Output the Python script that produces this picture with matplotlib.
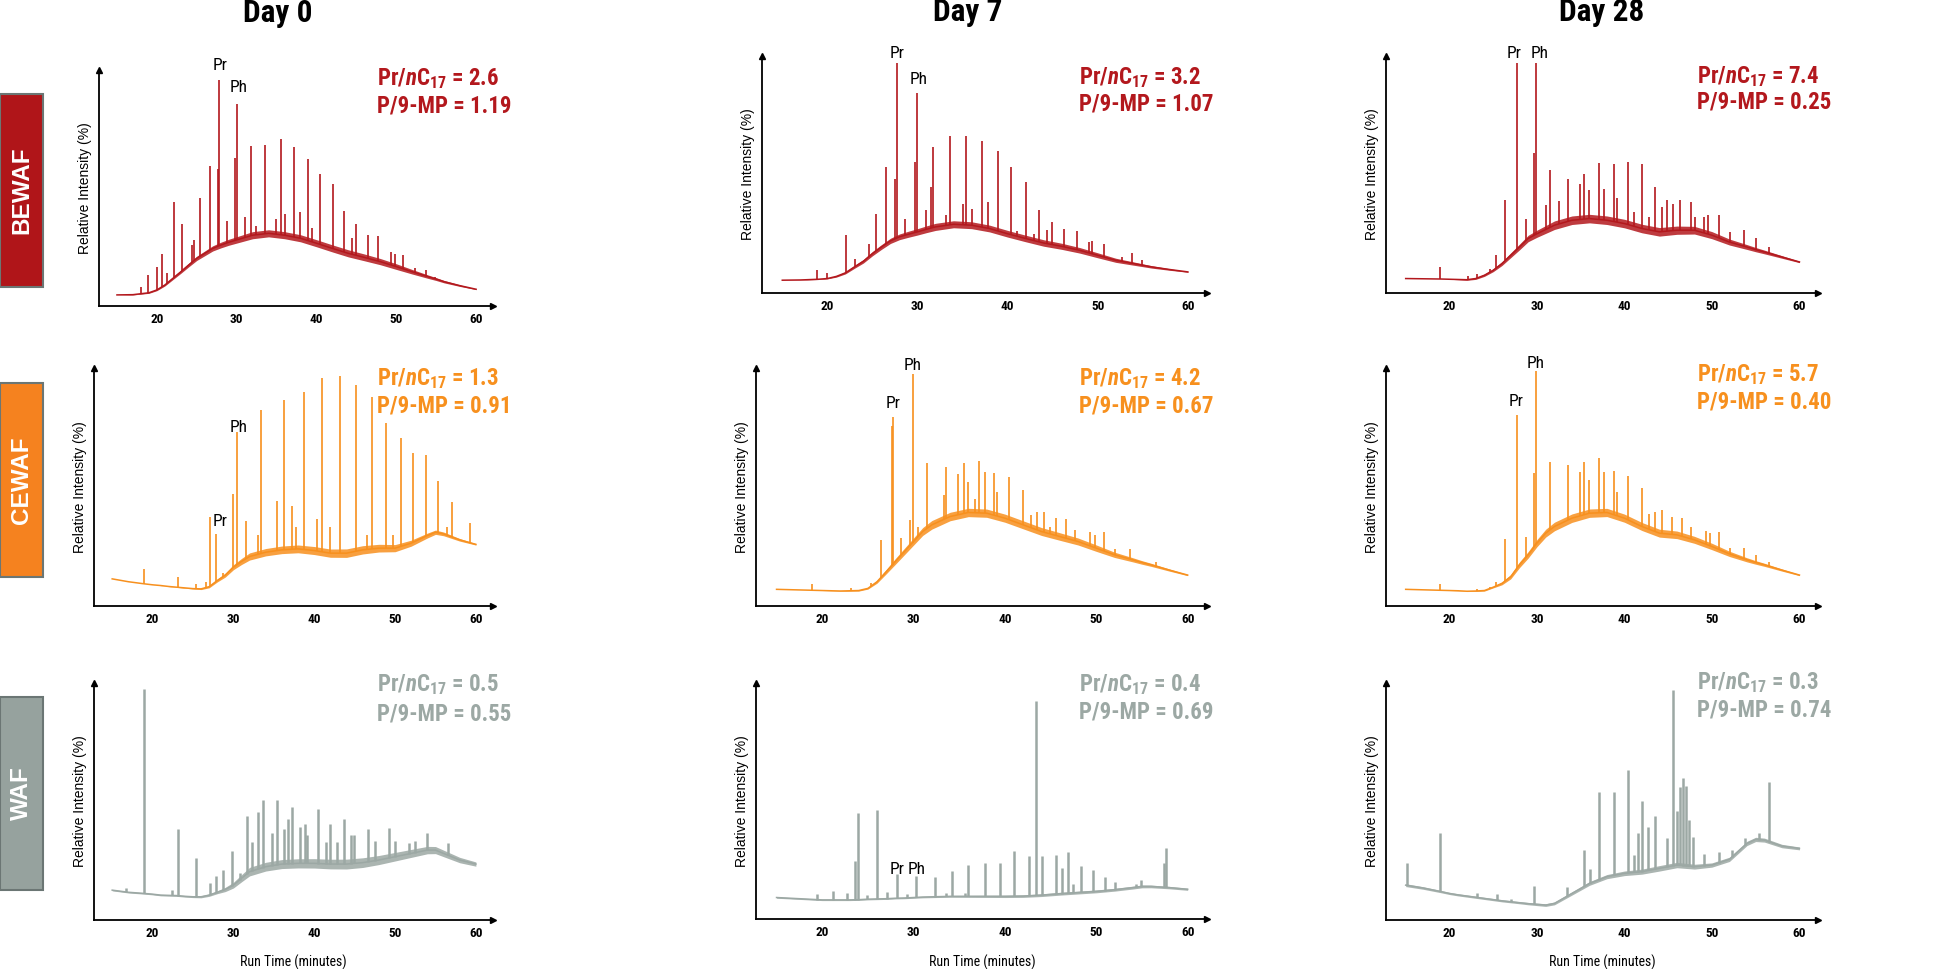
import numpy as np
import matplotlib
matplotlib.use("Agg")
import matplotlib.pyplot as plt
from matplotlib import font_manager
from matplotlib.patches import Rectangle

W, H = 1946, 969


def _weight(entry):
    w = entry.weight
    if isinstance(w, (int, float)) or str(w).isdigit():
        return int(w)
    return font_manager.weight_dict.get(str(w), 400)


def pick_family(candidates, fallback="Liberation Sans"):
    """First candidate family that ships a bold face."""
    for name in candidates:
        if any(f.name == name and _weight(f) >= 700 for f in font_manager.fontManager.ttflist):
            return name
    return fallback


NARROW = pick_family(["Liberation Sans Narrow", "Roboto Condensed", "Fira Sans Condensed",
                      "Barlow Semi Condensed", "Asap Condensed"])
plt.rcParams["font.family"] = ["Liberation Sans", "DejaVu Sans"]
plt.rcParams["mathtext.fontset"] = "custom"
plt.rcParams["mathtext.it"] = f"{NARROW}:italic:bold"
plt.rcParams["mathtext.default"] = "regular"

# ---------------------------------------------------------------- data
DAYS = ["Day 0", "Day 7", "Day 28"]
FRACTIONS = ["BEWAF", "CEWAF", "WAF"]
PR_NC17 = [["2.6", "3.2", "7.4"], ["1.3", "4.2", "5.7"], ["0.5", "0.4", "0.3"]]
P_9MP = [["1.19", "1.07", "0.25"], ["0.91", "0.67", "0.40"], ["0.55", "0.69", "0.74"]]
X_TICKS = [20, 30, 40, 50, 60]

# retention times (min) where the UCM hump was read
KNOTS = [15, 17, 19, 20, 21, 22, 23, 24, 25, 26, 27, 28, 29, 30, 31, 32,
         34, 36, 38, 40, 42, 44, 46, 48, 50, 52, 54, 55, 56, 58, 60]
SPREAD_T = [15, 20, 25, 28, 32, 45, 50, 55, 60]

# hump (relative intensity, % of axis height)
bewaf_d0_hump = [4.7, 4.8, 5.6, 6.8, 8.9, 11.7, 14.5, 17.4, 20.2, 22.3, 24.4, 25.8, 27, 28, 29, 30,
                 30.8, 30, 28.7, 26.6, 24.4, 22.3, 20.6, 18.8, 16.7, 14.5, 12.4, 11.4, 10.3, 8.6, 7.1]
bewaf_d7_hump = [5.4, 5.5, 5.8, 6.1, 7.0, 8.5, 11, 13.4, 16.6, 19.4, 22, 23.7, 24.8, 25.8, 26.9, 27.9,
                 29, 28.6, 27.2, 25, 23, 21.1, 19.7, 18, 15.9, 13.8, 12.4, 11.7, 11, 9.9, 8.9]
bewaf_d28_hump = [6.1, 6.0, 5.9, 5.8, 5.7, 5.6, 6.1, 7.5, 9.6, 12.4, 15.9, 19.4, 23, 25, 26.8, 28.6,
                  30.7, 31.4, 30.7, 29.3, 27.2, 25.8, 26.5, 26.5, 24.4, 21.5, 19.4, 18.3, 17.3, 15.2, 13.1]
cewaf_d0_hump = [11.4, 10.2, 9.3, 8.9, 8.6, 8.2, 7.9, 7.6, 7.3, 7.2, 8.1, 10.7, 13, 16.3, 18.7, 20.8,
                 22.6, 23.6, 24, 23.3, 22.2, 22.2, 23.6, 24.3, 24.3, 26.4, 29.6, 31, 30.3, 27.8, 25.9]
cewaf_d7_hump = [7.0, 6.8, 6.6, 6.5, 6.4, 6.3, 6.4, 6.5, 7.4, 10.2, 14.4, 18.7, 22.9, 27.1, 31.3, 34.1,
                 37.6, 39.3, 39, 36.9, 34.1, 31.3, 29.2, 27.1, 24.3, 21.5, 19.4, 18.3, 17.3, 15.1, 13.0]
cewaf_d28_hump = [7.0, 6.8, 6.6, 6.5, 6.4, 6.2, 6.3, 6.5, 7.9, 9.5, 12.3, 17.3, 21.5, 26.4, 30.6, 33.4,
                  36.9, 39, 39.3, 36.9, 33.4, 30.6, 29.9, 27.8, 25, 21.9, 19.4, 18.3, 17.3, 15.1, 13.0]
waf_d0_hump = [12.6, 11.7, 11.2, 10.9, 10.5, 10.4, 10.3, 10.0, 9.8, 9.8, 10.5, 11.7, 12.9, 14.7, 17.6, 20.4,
               22.5, 23.6, 23.9, 23.9, 23.6, 23.6, 24.2, 25.3, 26.7, 28.1, 29.5, 29.5, 28.1, 25.3, 23.6]
waf_d7_hump = [9.1, 8.7, 8.3, 8.1, 8.1, 8.1, 8.1, 8.2, 8.4, 8.5, 8.6, 8.8, 8.9, 9.1, 9.3, 9.4,
               9.6, 9.6, 9.6, 9.6, 9.7, 10.1, 10.7, 11.2, 11.7, 12.4, 13.3, 13.8, 13.8, 13.3, 12.6]
waf_d28_hump = [14.7, 13.5, 12.0, 11.2, 10.6, 10.1, 9.6, 9.1, 8.6, 8.1, 7.7, 7.3, 6.9, 6.6, 6.3, 7.0,
                11.2, 15.4, 18.3, 19.7, 20.4, 21.8, 23.2, 22.5, 23.2, 25.6, 32.3, 34, 33.7, 31.2, 30.2]

# width of the noisy band around the hump
bewaf_d0_spread = [0, 0.6, 1.8, 2.4, 3.0, 3.0, 2.4, 1.2, 0.3]
bewaf_d7_spread = [0, 0.3, 1.8, 2.4, 3.0, 2.7, 2.1, 1.2, 0.3]
bewaf_d28_spread = [0, 0, 1.2, 2.4, 3.6, 3.6, 3.0, 1.8, 0.6]
cewaf_d0_spread = [0, 0, 0.3, 1.2, 3.0, 3.6, 3.0, 1.8, 0.6]
cewaf_d7_spread = [0, 0, 0.6, 2.4, 3.6, 3.3, 2.7, 1.5, 0.5]
cewaf_d28_spread = [0, 0, 0.6, 2.4, 3.6, 3.3, 2.7, 1.5, 0.5]
waf_d0_spread = [0.6, 0.6, 0.7, 1.2, 3.6, 4.2, 3.6, 3.0, 1.8]
waf_d7_spread = [0.6, 0.6, 0.6, 0.6, 0.7, 1.2, 1.2, 1.2, 0.9]
waf_d28_spread = [1.2, 0.9, 0.9, 0.9, 1.2, 2.4, 1.8, 1.8, 1.2]

# resolved peaks: retention time (min) and apex height (%)
bewaf_d0_pk_t = [18.0, 18.9, 20.0, 20.6, 21.3, 22.2, 23.1, 24.4, 24.7, 25.4, 26.6, 27.6, 27.8, 28.8, 29.8,
                 30.0, 31.0, 31.8, 32.4, 33.6, 34.9, 35.5, 36.1, 37.2, 37.9, 38.9, 39.5, 40.5, 42.1, 43.5,
                 44.4, 45.0, 46.4, 47.7, 49.4, 49.9, 50.9, 52.3, 53.7, 54.8]
bewaf_d0_pk_h = [8.2, 13.0, 16.7, 21.9, 14.0, 44.2, 34.6, 26.0, 28.0, 45.9, 59.5, 58.0, 95.8, 36.0, 62.9,
                 85.6, 37.9, 67.9, 34.0, 68.2, 37.0, 70.6, 39.0, 67.5, 40.0, 62.1, 33.0, 55.9, 51.6, 40.4,
                 28.7, 34.6, 30.0, 29.7, 23.0, 22.0, 21.6, 16.0, 15.3, 12.5]
bewaf_d7_pk_t = [18.8, 20.0, 22.1, 23.1, 24.6, 25.4, 26.5, 27.55, 27.7, 28.6, 29.7, 29.9, 31.0, 31.5, 31.7,
                 33.2, 33.6, 35.0, 35.4, 36.0, 37.2, 37.8, 38.9, 40.4, 41.0, 42.0, 42.9, 43.5, 44.4, 44.9,
                 46.3, 47.7, 49.0, 49.4, 50.7, 52.7, 53.8, 54.9]
bewaf_d7_pk_h = [9.9, 8.5, 24.4, 14.5, 20.8, 33.2, 53.0, 48.3, 97.2, 31.4, 55.1, 84.5, 34.9, 44.8, 61.7,
                 33.0, 66.2, 37.7, 66.2, 35.6, 64.1, 38.5, 60.0, 53.2, 26.0, 46.9, 25.0, 35.2, 26.5, 30.0,
                 27.2, 26.2, 21.5, 22.0, 20.8, 15.2, 17.0, 14.0]
bewaf_d28_pk_t = [18.9, 22.1, 23.1, 24.6, 25.3, 26.4, 27.7, 28.7, 29.7, 29.9, 31.0, 31.5, 32.5, 33.6, 34.9,
                  35.4, 36.0, 37.1, 37.7, 38.8, 39.2, 40.4, 41.1, 42.0, 42.8, 43.5, 44.3, 44.9, 45.6, 46.3,
                  47.6, 48.1, 49.1, 49.5, 50.8, 52.1, 53.7, 55.0, 56.5]
bewaf_d28_pk_h = [11.0, 7.3, 7.9, 10.3, 15.9, 39.4, 97.2, 31.4, 58.9, 96.9, 37.0, 51.8, 39.0, 48.3, 46.2,
                  50.4, 43.4, 54.9, 43.8, 54.5, 40.0, 55.1, 34.0, 54.6, 32.0, 44.8, 36.3, 39.4, 37.5, 39.4,
                  38.5, 32.0, 32.0, 33.0, 32.8, 25.8, 26.5, 23.0, 19.4]
cewaf_d0_pk_t = [18.9, 23.2, 25.4, 26.6, 27.1, 27.8, 28.7, 29.9, 30.4, 31.6, 33.0, 33.4, 35.4, 36.2, 37.2,
                 37.8, 38.7, 40.4, 40.9, 42.0, 43.2, 45.2, 46.5, 47.2, 48.9, 49.8, 50.7, 52.2, 53.8, 55.3,
                 56.4, 57.1, 59.3]
cewaf_d0_pk_h = [15.6, 12.1, 9.3, 10.2, 37.3, 30.2, 14.0, 47.1, 72.9, 35.9, 30.0, 82.2, 44.3, 86.4, 42.1,
                 33.0, 89.8, 36.5, 95.8, 33.4, 96.8, 93.0, 30.0, 87.7, 76.9, 30.0, 70.5, 64.2, 63.3, 52.7,
                 33.4, 43.8, 34.8]
cewaf_d7_pk_t = [18.9, 23.2, 25.3, 26.4, 27.6, 27.7, 28.6, 29.6, 29.9, 30.5, 31.5, 33.3, 33.6, 34.9, 35.5,
                 36.0, 36.7, 37.2, 37.8, 38.8, 39.1, 40.5, 42.0, 42.8, 43.5, 44.3, 44.9, 45.6, 46.7, 47.7,
                 49.3, 49.9, 50.8, 52.1, 53.7, 56.5]
cewaf_d7_pk_h = [9.3, 7.5, 9.8, 27.8, 75.5, 79.4, 28.5, 36.2, 97.6, 33.0, 60.0, 46.7, 58.6, 55.5, 60.0,
                 52.3, 45.0, 61.1, 56.1, 55.8, 48.0, 54.3, 48.8, 38.3, 39.3, 39.7, 33.0, 36.9, 36.5, 32.0,
                 31.3, 30.0, 30.9, 24.0, 23.8, 18.5]
cewaf_d28_pk_t = [18.9, 23.1, 24.6, 25.3, 26.4, 27.7, 28.7, 29.7, 29.9, 31.5, 33.6, 34.9, 35.4, 36.0, 37.1,
                  37.7, 38.8, 39.2, 40.4, 42.0, 42.8, 43.5, 44.3, 45.4, 46.6, 47.6, 49.3, 49.8, 50.8, 52.1,
                  53.7, 55.0, 56.5]
cewaf_d28_pk_h = [9.3, 7.2, 8.0, 10.2, 28.0, 80.4, 29.2, 55.8, 98.6, 60.7, 59.3, 56.5, 60.7, 53.0, 62.1,
                  56.5, 56.9, 48.0, 54.8, 49.5, 38.6, 39.7, 40.4, 37.3, 36.9, 33.0, 31.6, 30.5, 31.3, 24.5,
                  24.3, 21.5, 18.5]
waf_d0_pk_t = [16.7, 18.9, 22.4, 23.2, 25.4, 27.1, 27.8, 28.7, 29.8, 30.8, 31.7, 32.3, 33.0, 33.6, 34.8,
               35.4, 36.2, 36.8, 37.2, 38.3, 38.8, 39.1, 40.5, 41.5, 42.0, 42.8, 43.7, 44.6, 44.9, 46.6,
               47.5, 49.2, 50.0, 51.7, 52.5, 54.0, 56.5]
waf_d0_pk_h = [13.3, 97.6, 12.5, 38.6, 26.0, 15.7, 18.7, 21.1, 29.2, 20.0, 44.0, 33.0, 45.4, 50.6, 36.8,
               50.8, 38.6, 42.8, 47.5, 39.3, 40.4, 36.0, 46.8, 33.0, 40.4, 33.0, 42.8, 36.0, 36.0, 38.6,
               33.5, 39.0, 33.5, 32.6, 33.3, 36.5, 32.3]
waf_d7_pk_t = [19.4, 21.2, 22.7, 23.6, 23.9, 24.9, 26.0, 27.1, 28.2, 29.3, 30.3, 32.3, 33.6, 34.2, 35.6,
               36.0, 37.8, 39.5, 41.0, 42.6, 43.4, 44.1, 45.6, 46.2, 46.95, 47.5, 48.3, 49.6, 50.9, 52.1,
               54.4, 54.9, 57.4, 57.6]
waf_d7_pk_h = [10.5, 11.7, 11.0, 24.6, 44.9, 10.0, 46.3, 11.5, 19.0, 10.5, 18.3, 18.0, 11.0, 20.4, 11.0,
               22.9, 23.6, 23.6, 28.8, 26.7, 92.3, 26.7, 27.0, 21.8, 28.4, 15.0, 22.5, 20.6, 18.0, 15.5,
               15.0, 16.5, 23.6, 30.2]
waf_d28_pk_t = [15.1, 18.9, 23.2, 25.4, 27.0, 29.7, 33.4, 35.4, 36.1, 37.1, 38.8, 40.4, 41.1, 41.6, 42.0,
                42.7, 43.5, 44.9, 45.6, 46.0, 46.3, 46.7, 47.0, 47.4, 47.8, 49.1, 50.8, 52.3, 53.8, 55.4,
                56.5]
waf_d28_pk_h = [23.9, 36.5, 11.5, 11.0, 9.0, 14.3, 14.0, 29.5, 21.5, 53.8, 54.1, 63.2, 27.5, 36.8, 50.3,
                39.3, 44.0, 34.4, 97.2, 45.9, 56.2, 60.1, 56.6, 42.1, 35.0, 28.0, 28.5, 29.5, 34.5, 36.5,
                58.3]

PANELS = [
    [(bewaf_d0_hump, bewaf_d0_spread, bewaf_d0_pk_t, bewaf_d0_pk_h),
     (bewaf_d7_hump, bewaf_d7_spread, bewaf_d7_pk_t, bewaf_d7_pk_h),
     (bewaf_d28_hump, bewaf_d28_spread, bewaf_d28_pk_t, bewaf_d28_pk_h)],
    [(cewaf_d0_hump, cewaf_d0_spread, cewaf_d0_pk_t, cewaf_d0_pk_h),
     (cewaf_d7_hump, cewaf_d7_spread, cewaf_d7_pk_t, cewaf_d7_pk_h),
     (cewaf_d28_hump, cewaf_d28_spread, cewaf_d28_pk_t, cewaf_d28_pk_h)],
    [(waf_d0_hump, waf_d0_spread, waf_d0_pk_t, waf_d0_pk_h),
     (waf_d7_hump, waf_d7_spread, waf_d7_pk_t, waf_d7_pk_h),
     (waf_d28_hump, waf_d28_spread, waf_d28_pk_t, waf_d28_pk_h)],
]

# ---------------------------------------------------------------- layout / style
LINE_COLORS = ["#b3181d", "#f7901e", "#9ca8a4"]
BOX_COLORS = ["#b01519", "#f5821f", "#96a29e"]
PEAK_LW = [1.2, 1.2, 1.8]

# axes rectangles in pixels: left, top, right, bottom
AX_PX = [
    [(99, 70, 493, 306), (762, 56, 1207, 293), (1386, 56, 1818, 293)],
    [(94, 368, 493, 606), (756, 368, 1207, 606), (1386, 368, 1818, 606)],
    [(94, 683, 493, 920), (756, 683, 1207, 919), (1386, 683, 1818, 920)],
]
XLIM = (12.75, 62.12)
BOX_PX = [(94, 287), (383, 577), (697, 890)]
TITLE_PX = [(278, 13), (968, 12), (1602, 12)]
XLABEL_PX = [(293, 962), (982, 962), (1602, 962)]
RATIO_LEFT = [377, 1079, 1697]
RATIO_BASE = [[(85, 112), (84, 111), (83, 108)],
              [(385, 413), (385, 412), (381, 409)],
              [(691, 720), (691, 719), (689, 716)]]
PEAK_LABELS = [
    [[("Pr", 220, 65), ("Ph", 239, 88)], [("Pr", 897, 53), ("Ph", 919, 80)],
     [("Pr", 1514, 53), ("Ph", 1540, 53)]],
    [[("Pr", 220, 522), ("Ph", 239, 427)], [("Pr", 893, 404), ("Ph", 913, 366)],
     [("Pr", 1516, 402), ("Ph", 1536, 363)]],
    [[], [("Pr", 897, 870), ("Ph", 917, 870)], []],
]


def fx(px):
    return px / W


def fy(py):
    return 1 - py / H


def draw_trace(ax, hump, spread, pk_t, pk_h, color, peak_lw):
    base = np.asarray(hump, dtype=float)
    band = np.interp(KNOTS, SPREAD_T, spread)
    ax.fill_between(KNOTS, base - band / 2, base + band / 2, color=color, lw=0, alpha=0.85)
    ax.plot(KNOTS, base, color=color, lw=1.1, solid_joinstyle="round")
    foot = np.interp(pk_t, KNOTS, base)
    ax.vlines(pk_t, foot, pk_h, color=color, lw=peak_lw)


def style_axes(ax):
    ax.set_xlim(*XLIM)
    ax.set_ylim(0, 100)
    for side in ("top", "right"):
        ax.spines[side].set_visible(False)
    for side in ("left", "bottom"):
        ax.spines[side].set_linewidth(1.3)
    ax.plot(1, 0, ">", color="black", ms=5, transform=ax.transAxes, clip_on=False)
    ax.plot(0, 1, "^", color="black", ms=5, transform=ax.transAxes, clip_on=False)
    ax.set_yticks([])
    ax.set_xticks(X_TICKS)
    ax.set_xticklabels([str(t) for t in X_TICKS], family=NARROW, fontsize=9.5,
                       fontweight="bold")
    ax.tick_params(axis="x", length=0, pad=5)
    ax.set_ylabel("Relative Intensity (%)", fontsize=10, labelpad=5)
    ax.patch.set_alpha(0)


fig = plt.figure(figsize=(W / 100, H / 100), dpi=100)

for r in range(3):
    for c in range(3):
        left, top, right, bottom = AX_PX[r][c]
        ax = fig.add_axes([fx(left), fy(bottom), (right - left) / W, (bottom - top) / H])
        hump, spread, pk_t, pk_h = PANELS[r][c]
        draw_trace(ax, hump, spread, pk_t, pk_h, LINE_COLORS[r], PEAK_LW[r])
        style_axes(ax)

        color = LINE_COLORS[r]
        b1, b2 = RATIO_BASE[r][c]
        fig.text(fx(RATIO_LEFT[c]), fy(b1), f"Pr/$\\mathit{{n}}$C$_{{17}}$ = {PR_NC17[r][c]}",
                 color=color, family=NARROW, fontweight="bold", fontsize=16.5, va="baseline")
        fig.text(fx(RATIO_LEFT[c]), fy(b2), f"P/9-MP = {P_9MP[r][c]}",
                 color=color, family=NARROW, fontweight="bold", fontsize=16.5, va="baseline")

        for text, px, py in PEAK_LABELS[r][c]:
            fig.text(fx(px), fy(py), text, family=NARROW, fontsize=12.5,
                     ha="center", va="center")

for c in range(3):
    tx, ty = TITLE_PX[c]
    fig.text(fx(tx), fy(ty), DAYS[c], family=NARROW, fontweight="bold", fontsize=22.5,
             ha="center", va="center")
    lx, ly = XLABEL_PX[c]
    fig.text(fx(lx), fy(ly), "Run Time (minutes)", family=NARROW, fontsize=10,
             ha="center", va="center")

for r in range(3):
    top, bottom = BOX_PX[r]
    fig.patches.append(Rectangle((fx(0), fy(bottom)), 43 / W, (bottom - top) / H,
                                 transform=fig.transFigure, facecolor=BOX_COLORS[r],
                                 edgecolor="#6b7674", lw=1.5))
    fig.text(fx(21.5), fy((top + bottom) / 2), FRACTIONS[r], color="white",
             fontweight="bold", fontsize=17.5, rotation=90, ha="center", va="center")

fig.savefig("out.png", dpi=100, facecolor="white")
